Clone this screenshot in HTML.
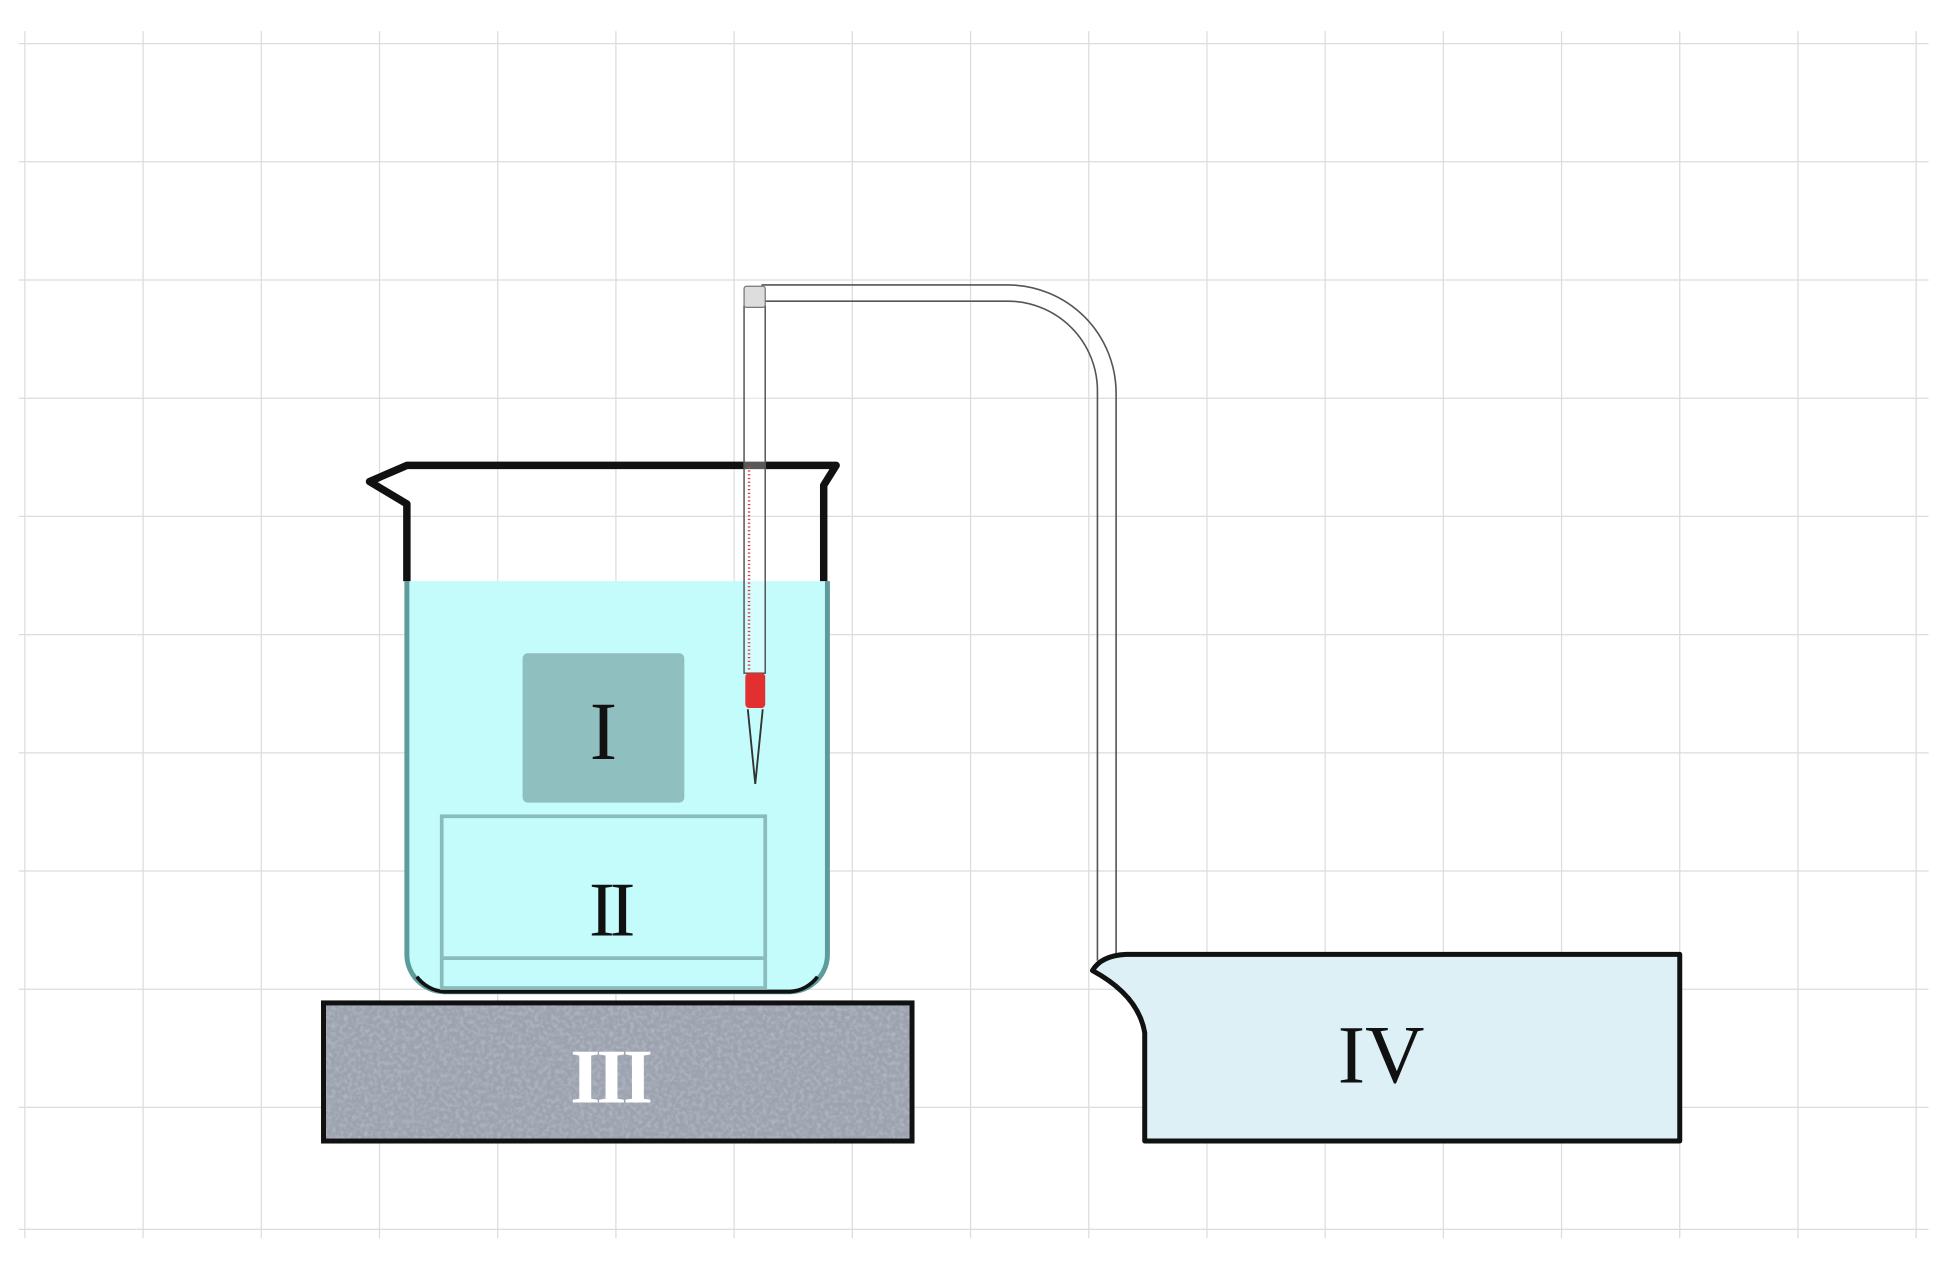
<!DOCTYPE html>
<html><head><meta charset="utf-8"><style>html,body{margin:0;padding:0;background:#fff}svg{display:block}</style></head>
<body>
<svg width="1951" height="1265" viewBox="0 0 1568 1016.6" xmlns="http://www.w3.org/2000/svg">
<defs>
<filter id="gran" x="0" y="0" width="100%" height="100%">
<feTurbulence type="fractalNoise" baseFrequency="0.3" numOctaves="2" seed="3"/>
<feColorMatrix type="matrix" values="0 0 0 0 0.45  0 0 0 0 0.48  0 0 0 0 0.55  0 0 0 -2 1.2"/>
</filter>
</defs>
<g stroke="#dcdcdc" stroke-width="1">
<line x1="20" y1="25" x2="20" y2="995"/><line x1="115" y1="25" x2="115" y2="995"/><line x1="210" y1="25" x2="210" y2="995"/><line x1="305" y1="25" x2="305" y2="995"/><line x1="400" y1="25" x2="400" y2="995"/><line x1="495" y1="25" x2="495" y2="995"/><line x1="590" y1="25" x2="590" y2="995"/><line x1="685" y1="25" x2="685" y2="995"/><line x1="780" y1="25" x2="780" y2="995"/><line x1="875" y1="25" x2="875" y2="995"/><line x1="970" y1="25" x2="970" y2="995"/><line x1="1065" y1="25" x2="1065" y2="995"/><line x1="1160" y1="25" x2="1160" y2="995"/><line x1="1255" y1="25" x2="1255" y2="995"/><line x1="1350" y1="25" x2="1350" y2="995"/><line x1="1445" y1="25" x2="1445" y2="995"/><line x1="1540" y1="25" x2="1540" y2="995"/>
<line x1="15" y1="35" x2="1550" y2="35"/><line x1="15" y1="130" x2="1550" y2="130"/><line x1="15" y1="225" x2="1550" y2="225"/><line x1="15" y1="320" x2="1550" y2="320"/><line x1="15" y1="415" x2="1550" y2="415"/><line x1="15" y1="510" x2="1550" y2="510"/><line x1="15" y1="605" x2="1550" y2="605"/><line x1="15" y1="700" x2="1550" y2="700"/><line x1="15" y1="795" x2="1550" y2="795"/><line x1="15" y1="890" x2="1550" y2="890"/><line x1="15" y1="988" x2="1550" y2="988"/>
</g>
<path d="M612 229 H810 A87 87 0 0 1 897 316 V772" fill="none" stroke="#555" stroke-width="1.3"/>
<path d="M612 242 H810 A72 72 0 0 1 882 314 V772" fill="none" stroke="#555" stroke-width="1.3"/>
<rect x="260" y="806" width="473" height="111" fill="#9ca3af"/>
<rect x="260" y="806" width="473" height="111" filter="url(#gran)"/>
<rect x="260" y="806" width="473" height="111" fill="none" stroke="#111" stroke-width="4"/>
<text x="490" y="886" font-family="Liberation Serif, serif" font-size="62" fill="#fff" text-anchor="middle" font-weight="bold" letter-spacing="-3">III</text>
<path d="M327 467 H665 V767 A30 30 0 0 1 635 797 H357 A30 30 0 0 1 327 767 Z" fill="#c4fcfc"/>
<path d="M327 467 V767 A30 30 0 0 0 357 797 H635 A30 30 0 0 0 665 767 V467" fill="none" stroke="#5e9c9c" stroke-width="4"/>
<path d="M335 785 A30 30 0 0 0 357 797 H635 A30 30 0 0 0 657 785" fill="none" stroke="#111" stroke-width="3"/>
<path d="M327 467 V405 L297 387 L327 374 H672 L662 390 V467" fill="none" stroke="#111" stroke-width="6" stroke-linejoin="round"/>
<rect x="355" y="656" width="260" height="138" fill="none" stroke="#8bbcbc" stroke-width="3"/>
<line x1="355" y1="770" x2="615" y2="770" stroke="#8bbcbc" stroke-width="3"/>
<text x="490" y="752" font-family="Liberation Serif, serif" font-size="62" fill="#111" text-anchor="middle" letter-spacing="-4">II</text>
<rect x="420" y="525" width="130" height="120" rx="4" fill="#8fbfbf"/>
<text x="485" y="610" font-family="Liberation Serif, serif" font-size="66" fill="#111" text-anchor="middle">I</text>
<rect x="598" y="246" width="17" height="295" fill="#fff" fill-opacity="0.3" stroke="#555" stroke-width="1.2"/>
<rect x="598" y="230" width="17" height="17" rx="2" fill="#ddd" stroke="#777"/>
<line x1="602" y1="375" x2="602" y2="540" stroke="#d04050" stroke-width="2" stroke-dasharray="1 2"/>
<rect x="599" y="541" width="16" height="28" rx="3" fill="#e23030"/>
<path d="M601 570 L607 630 L613 570" fill="none" stroke="#333" stroke-width="1.5"/>
<path d="M905 767 H1350 V917 H920 V830 Q915 800 878 780 Q885 768 905 767 Z" fill="#dcf0f5" stroke="#111" stroke-width="4" stroke-linejoin="round"/>
<text x="1110" y="870" font-family="Liberation Serif, serif" font-size="66" fill="#111" text-anchor="middle">IV</text>
</svg>
</body></html>
